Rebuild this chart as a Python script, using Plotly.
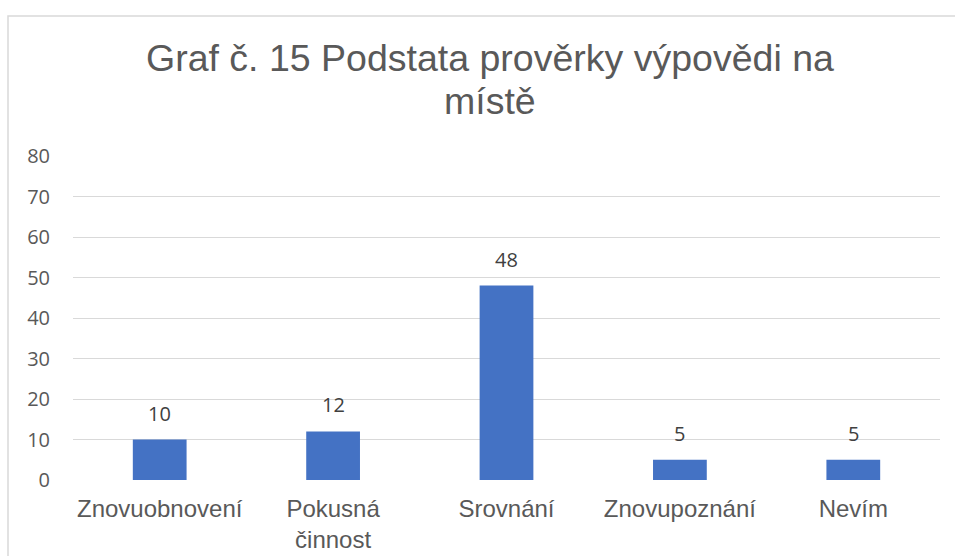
import plotly.graph_objects as go

categories = ["Znovuobnovení", "Pokusná<br>činnost", "Srovnání", "Znovupoznání", "Nevím"]
values = [10, 12, 48, 5, 5]
y_ticks = [0, 10, 20, 30, 40, 50, 60, 70, 80]
title_lines = ["Graf č. 15 Podstata prověrky výpovědi na", "místě"]

W, H = 955, 556
ML, MR, MT, MB = 73, 15, 156, 76
pw, ph = W - ML - MR, H - MT - MB

fig = go.Figure()
fig.add_trace(go.Bar(
    x=categories, y=values,
    marker=dict(color="#4472C4", line=dict(width=0)),
    width=0.31, hoverinfo="skip",
))

for c, v in zip(categories, values):
    fig.add_annotation(x=c, y=v, text=str(v), showarrow=False,
                       yanchor="bottom", yshift=11,
                       font=dict(family="Open Sans", size=20, color="#404040"))

title_font = dict(family="Liberation Sans", size=37.5, color="#595959")
fig.add_annotation(xref="paper", yref="paper", x=(490 - ML) / pw,
                   y=1 + (MT - 124) / ph, xanchor="center", yanchor="bottom",
                   text=title_lines[1], showarrow=False, font=title_font)

fig.add_shape(type="rect", xref="paper", yref="paper",
              x0=(8 - ML) / pw, x1=(W + 5 - ML) / pw,
              y0=-(H + 5 - MT - ph) / ph, y1=(H - 16 - MB) / ph,
              line=dict(color="#D9D9D9", width=1.5), fillcolor="rgba(0,0,0,0)",
              layer="below")

fig.update_layout(
    width=W, height=H,
    margin=dict(l=ML, r=MR, t=MT, b=MB),
    paper_bgcolor="white", plot_bgcolor="white",
    showlegend=False,
    title=dict(text=title_lines[0],
               x=0.513, xanchor="center", y=1 - 45 / H, yanchor="top",
               font=title_font),
    bargap=0.69,
    xaxis=dict(showgrid=False, showline=False, ticks="", ticklabelstandoff=12,
               automargin=False,
               tickfont=dict(family="Liberation Sans", size=24, color="#595959")),
    yaxis=dict(range=[0, 80], tickvals=y_ticks, showgrid=True,
               gridcolor="#D9D9D9", gridwidth=1.3, zeroline=False,
               showline=False, ticks="", ticklabelstandoff=22, automargin=False,
               tickfont=dict(family="Open Sans", size=20, color="#595959")),
)
fig.write_html("out.html", config={"displayModeBar": False},
               post_script="document.body.style.margin='0';")
